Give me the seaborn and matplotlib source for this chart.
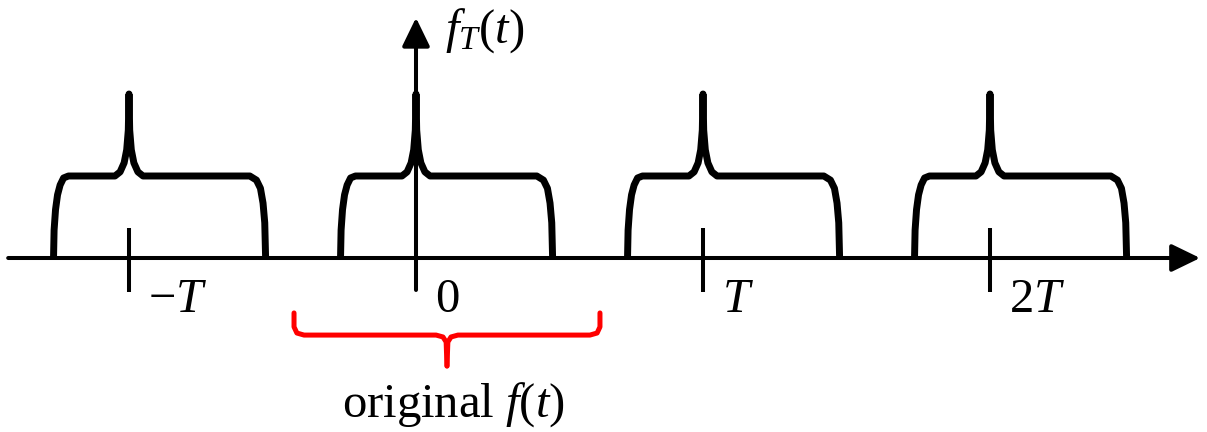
import numpy as np
import pandas as pd
import matplotlib
matplotlib.use("Agg")
import matplotlib.pyplot as plt
import seaborn as sns

sns.set_theme(style="white")
plt.rcParams['font.family'] = ['Liberation Serif', 'DejaVu Serif']
plt.rcParams['text.color'] = 'black'
plt.rcParams['mathtext.fontset'] = 'custom'
plt.rcParams['mathtext.rm'] = 'Liberation Serif'
plt.rcParams['mathtext.it'] = 'Liberation Serif:italic'

# period centres (in units of T) and their labels
centres = [-1, 0, 1, 2]
tick_labels = [r'$-T$', r'$0$', r'$T$', r'$2T$']

# one period of the original pulse (t relative to centre, amplitude)
pulse_t = [-0.263, -0.261, -0.256, -0.249, -0.240, -0.228, -0.211,
           -0.049, -0.031, -0.017, -0.008, -0.0024, 0.0,
           0.0024, 0.008, 0.017, 0.031, 0.049,
           0.421, 0.444, 0.458, 0.467, 0.473, 0.476]
pulse_f = [0.0, 0.34, 0.59, 0.77, 0.89, 0.976, 1.0,
           1.0, 1.05, 1.16, 1.32, 1.56, 2.0,
           1.56, 1.32, 1.16, 1.05, 1.0,
           1.0, 0.95, 0.85, 0.67, 0.43, 0.0]

# red brace under the original period
brace_left_t = [-0.425, -0.425, -0.415, -0.390, 0.070, 0.094, 0.105, 0.108]
brace_left_f = [-0.67, -0.84, -0.915, -0.94, -0.94, -0.963, -1.024, -1.317]
brace_right_t = [0.641, 0.641, 0.631, 0.606, 0.146, 0.122, 0.111, 0.108]
brace_right_f = [-0.67, -0.84, -0.915, -0.94, -0.94, -0.963, -1.024, -1.317]

# build the periodic signal
frames = []
for c in centres:
    frames.append(pd.DataFrame({'t': np.array(pulse_t) + c, 'f': pulse_f, 'copy': c}))
df = pd.concat(frames, ignore_index=True)

fig = plt.figure(figsize=(12.07, 4.32), dpi=100)
ax = fig.add_axes([0, 0, 1, 1])
ax.set_xlim(-416 / 287, (1207 - 416) / 287)
ax.set_ylim((258 - 432) / 82, 258 / 82)
ax.axis('off')

# axes with arrows
arrow = dict(arrowstyle='-|>,head_length=1.75,head_width=0.85', color='black',
             lw=2.9, shrinkA=0, shrinkB=0, mutation_scale=10)
ax.annotate('', xy=(2.732, 0), xytext=(-1.421, 0), arrowprops=arrow)
ax.annotate('', xy=(0, 2.93), xytext=(0, -0.39), arrowprops=arrow)

# ticks and labels
for c, lab in zip(centres, tick_labels):
    if c != 0:
        ax.plot([c, c], [0.366, -0.415], color='black', lw=2.9, solid_capstyle='butt')
    ax.text(c + 0.066, -0.512, lab, ha='left', va='center', fontsize=35)

sns.lineplot(data=df, x='t', y='f', units='copy', estimator=None, sort=False,
             color='black', lw=5, ax=ax, legend=False)
for line in ax.get_lines():
    line.set_solid_capstyle('butt')
    line.set_solid_joinstyle('round')

ax.plot(brace_left_t, brace_left_f, color='#ff0000', lw=3.6, solid_joinstyle='round')
ax.plot(brace_right_t, brace_right_f, color='#ff0000', lw=3.6, solid_joinstyle='round')

ax.text(0.101, 2.63, r'$f_T(t)$', ha='left', va='baseline', fontsize=35)
ax.text(0.129, -1.94, r'original $f(t)$', ha='center', va='baseline', fontsize=35)

fig.savefig('out.png', dpi=100)
